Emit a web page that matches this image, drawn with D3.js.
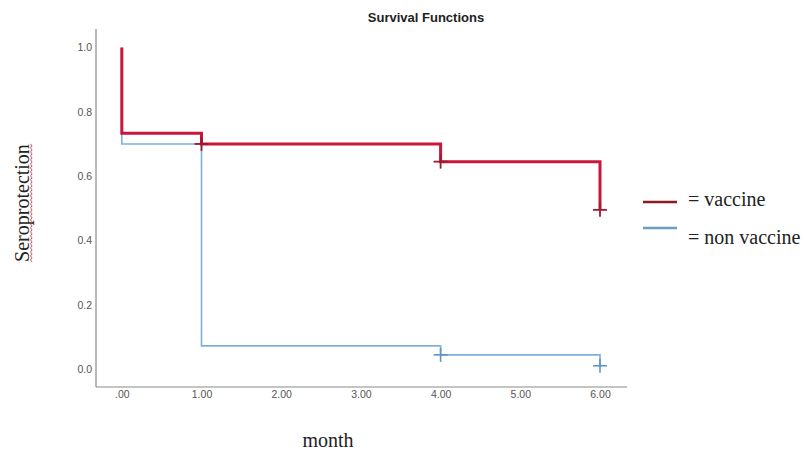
<!DOCTYPE html>
<html>
<head>
<meta charset="utf-8">
<script src="https://cdn.jsdelivr.net/npm/d3@7"></script>
<style>
  html, body { margin: 0; padding: 0; background: #fff; }
  svg { display: block; }
</style>
</head>
<body>
<div id="chart"></div>
<script>
// ---- data ----
const vaccineTime = [0, 0, 1, 4, 6];
const vaccineSurv = [1.0, 0.733, 0.70, 0.645, 0.495];
const vaccineCensorTime = [1, 4, 6];
const vaccineCensorSurv = [0.70, 0.645, 0.495];

const nonVaccineTime = [0, 0, 1, 4, 6];
const nonVaccineSurv = [1.0, 0.70, 0.072, 0.044, 0.01];
const nonVaccineCensorTime = [4, 6];
const nonVaccineCensorSurv = [0.044, 0.01];

const xTicks = [0, 1, 2, 3, 4, 5, 6];
const xTickLabels = [".00", "1.00", "2.00", "3.00", "4.00", "5.00", "6.00"];
const yTicks = [0.0, 0.2, 0.4, 0.6, 0.8, 1.0];
const legendLabels = ["= vaccine", "= non vaccine"];

// ---- layout ----
const W = 804, H = 451;
const svg = d3.select("#chart").append("svg").attr("width", W).attr("height", H);

const x = d3.scaleLinear().domain([0, 6]).range([121.8, 600]);
const y = d3.scaleLinear().domain([0, 1]).range([369, 47.5]);

const axisLeftX = 96, axisTopY = 29, axisBottomY = 387, axisRightX = 627;

// axis frame lines
svg.append("line").attr("x1", axisLeftX).attr("x2", axisLeftX)
  .attr("y1", axisTopY).attr("y2", axisBottomY)
  .attr("stroke", "#8a8a8a").attr("stroke-width", 1.2);
svg.append("line").attr("x1", axisLeftX).attr("x2", axisRightX)
  .attr("y1", axisBottomY).attr("y2", axisBottomY)
  .attr("stroke", "#8a8a8a").attr("stroke-width", 1.2);

// y axis labels via d3 axis (no tick lines)
const yAxis = d3.axisLeft(y).tickValues(yTicks).tickFormat(d3.format(".1f")).tickSize(0).tickPadding(0);
const gy = svg.append("g").attr("transform", `translate(92,0)`).call(yAxis);
gy.select(".domain").remove();
gy.selectAll("text").attr("font-family", "Liberation Sans, Arial, sans-serif")
  .attr("font-size", 10.5).attr("fill", "#555");

// x axis labels
const xAxis = d3.axisBottom(x).tickValues(xTicks)
  .tickFormat((d, i) => xTickLabels[i]).tickSize(0).tickPadding(0);
const gx = svg.append("g").attr("transform", `translate(0,391)`).call(xAxis);
gx.select(".domain").remove();
gx.selectAll("text").attr("font-family", "Liberation Sans, Arial, sans-serif")
  .attr("font-size", 10.5).attr("fill", "#555");

// step lines
const line = d3.line().x(d => x(d[0])).y(d => y(d[1])).curve(d3.curveStepAfter);
const blueColor = "#7fb0dc";
const redColor = "#c8173a";

svg.append("path")
  .attr("d", line(nonVaccineTime.map((t, i) => [t, nonVaccineSurv[i]])))
  .attr("fill", "none").attr("stroke", blueColor).attr("stroke-width", 1.6);
svg.append("path")
  .attr("d", line(vaccineTime.map((t, i) => [t, vaccineSurv[i]])))
  .attr("fill", "none").attr("stroke", redColor).attr("stroke-width", 3);

// censor marks
function crosses(times, survs, color, size, sw) {
  const g = svg.append("g");
  times.forEach((t, i) => {
    const cx = x(t), cy = y(survs[i]);
    g.append("line").attr("x1", cx - size).attr("x2", cx + size).attr("y1", cy).attr("y2", cy)
      .attr("stroke", color).attr("stroke-width", sw);
    g.append("line").attr("x1", cx).attr("x2", cx).attr("y1", cy - size).attr("y2", cy + size)
      .attr("stroke", color).attr("stroke-width", sw);
  });
}
crosses(nonVaccineCensorTime, nonVaccineCensorSurv, "#5f93c8", 7, 1.6);
crosses(vaccineCensorTime, vaccineCensorSurv, "#9c1b33", 7, 1.8);

// title
svg.append("text").attr("x", 426).attr("y", 22).attr("text-anchor", "middle")
  .attr("font-family", "Liberation Sans, Arial, sans-serif").attr("font-weight", "bold")
  .attr("font-size", 13).attr("fill", "#222").text("Survival Functions");

// x label
svg.append("text").attr("x", 328).attr("y", 447).attr("text-anchor", "middle")
  .attr("font-family", "Liberation Serif, Times New Roman, serif")
  .attr("font-size", 20).attr("fill", "#222").text("month");

// y label with wavy spell-check underline
const yl = svg.append("g").attr("transform", "translate(29,203) rotate(-90)");
const ylt = yl.append("text").attr("x", 0).attr("y", 0).attr("text-anchor", "middle")
  .attr("font-family", "Liberation Serif, Times New Roman, serif")
  .attr("font-size", 20).attr("fill", "#222").text("Seroprotection");
const bw = ylt.node().getComputedTextLength();
let wave = `M${-bw / 2},3`;
for (let px = -bw / 2, k = 0; px < bw / 2; px += 2, k++) {
  wave += ` L${px + 2},${k % 2 === 0 ? 1.5 : 3}`;
}
yl.append("path").attr("d", wave).attr("fill", "none").attr("stroke", "#e0352f").attr("stroke-width", 0.9);

// legend
const legendColors = ["#8b1a22", "#6d9dc0"];
const legendLineY = [202, 228];
const legendTextY = [206, 244];
legendLabels.forEach((lab, i) => {
  svg.append("line").attr("x1", 643).attr("x2", 677)
    .attr("y1", legendLineY[i]).attr("y2", legendLineY[i])
    .attr("stroke", legendColors[i]).attr("stroke-width", 2.5);
  svg.append("text").attr("x", 688).attr("y", legendTextY[i])
    .attr("font-family", "Liberation Serif, Times New Roman, serif")
    .attr("font-size", 20).attr("fill", "#222").text(lab);
});
</script>
</body>
</html>
